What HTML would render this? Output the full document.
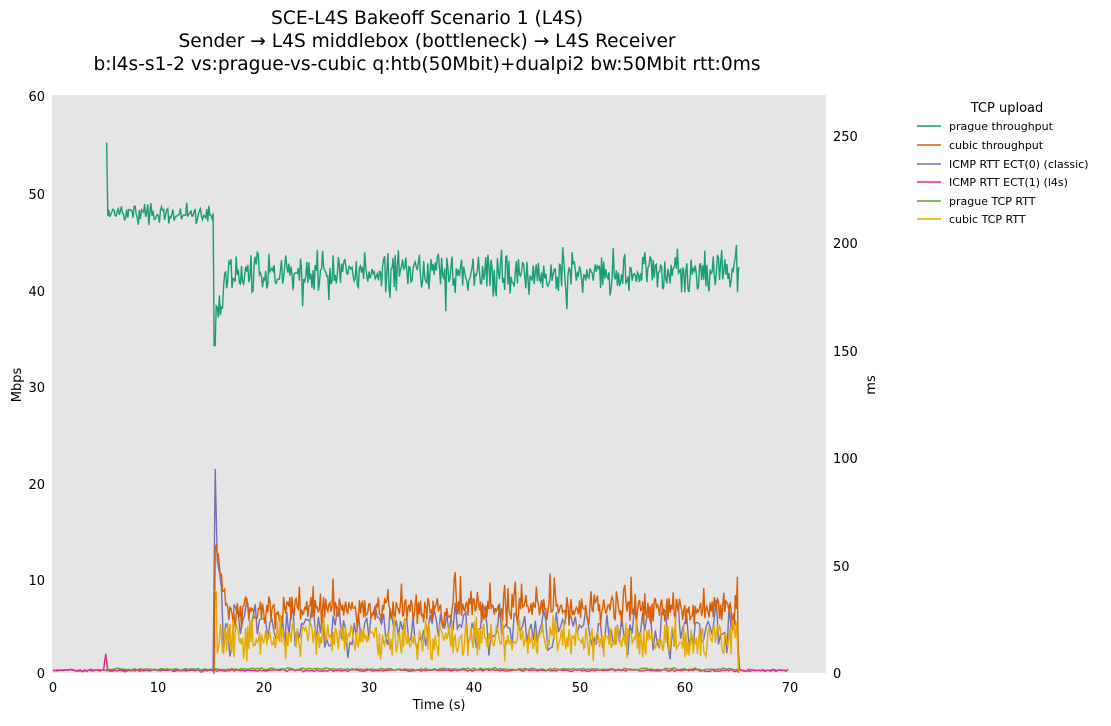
<!DOCTYPE html>
<html><head><meta charset="utf-8"><style>
body{margin:0;background:#fff;font-family:"Liberation Sans","DejaVu Sans",sans-serif;}
svg text{font-family:"DejaVu Sans","Liberation Sans",sans-serif;}
</style></head><body>
<svg id="s" width="1111" height="721" xmlns="http://www.w3.org/2000/svg">
<rect width="1111" height="721" fill="#fff"/>
<text x="427" y="24" font-size="18.6" text-anchor="middle">SCE-L4S Bakeoff Scenario 1 (L4S)</text>
<text x="427" y="47" font-size="18.6" text-anchor="middle">Sender → L4S middlebox (bottleneck) → L4S Receiver</text>
<text x="427" y="70" font-size="18.6" text-anchor="middle">b:l4s-s1-2 vs:prague-vs-cubic q:htb(50Mbit)+dualpi2 bw:50Mbit rtt:0ms</text>
<rect x="52" y="95" width="774" height="578" fill="#e5e5e5"/>
<g id="g"></g>
<g font-size="13" fill="#000">
<text x="45" y="678" text-anchor="end">0</text>
<text x="45" y="585" text-anchor="end">10</text>
<text x="45" y="489" text-anchor="end">20</text>
<text x="45" y="392" text-anchor="end">30</text>
<text x="45" y="296" text-anchor="end">40</text>
<text x="45" y="199" text-anchor="end">50</text>
<text x="45" y="101" text-anchor="end">60</text>
<text x="833" y="678">0</text>
<text x="833" y="571">50</text>
<text x="833" y="463">100</text>
<text x="833" y="356">150</text>
<text x="833" y="248">200</text>
<text x="833" y="141">250</text>
<text x="53" y="692" text-anchor="middle">0</text>
<text x="158" y="692" text-anchor="middle">10</text>
<text x="264" y="692" text-anchor="middle">20</text>
<text x="369" y="692" text-anchor="middle">30</text>
<text x="474" y="692" text-anchor="middle">40</text>
<text x="580" y="692" text-anchor="middle">50</text>
<text x="685" y="692" text-anchor="middle">60</text>
<text x="790" y="692" text-anchor="middle">70</text>
<text x="439" y="709" text-anchor="middle">Time (s)</text>
<text transform="translate(21,385) rotate(-90)" text-anchor="middle">Mbps</text>
<text transform="translate(875,385) rotate(-90)" text-anchor="middle">ms</text>
</g>
<g font-size="11">
<text x="1007" y="112" font-size="13" text-anchor="middle">TCP upload</text>
<line x1="917" x2="941" y1="126" y2="126" stroke="#1b9e77" stroke-width="1.5"/><text x="949" y="130">prague throughput</text>
<line x1="917" x2="941" y1="145" y2="145" stroke="#d95f02" stroke-width="1.5"/><text x="949" y="149">cubic throughput</text>
<line x1="917" x2="941" y1="164" y2="164" stroke="#7570b3" stroke-width="1.5"/><text x="949" y="168">ICMP RTT ECT(0) (classic)</text>
<line x1="917" x2="941" y1="182" y2="182" stroke="#e7298a" stroke-width="1.5"/><text x="949" y="186">ICMP RTT ECT(1) (l4s)</text>
<line x1="917" x2="941" y1="201" y2="201" stroke="#66a61e" stroke-width="1.5"/><text x="949" y="205">prague TCP RTT</text>
<line x1="917" x2="941" y1="219" y2="219" stroke="#e6ab02" stroke-width="1.5"/><text x="949" y="223">cubic TCP RTT</text>
</g>
</svg>
<script>
var seed=7;function r(){seed=(seed*16807)%2147483647;return seed/2147483647;}
function n(){return (r()+r()+r()-1.5)/1.5;}
function X(t){return 53+t*10.53;}function L(v){return 673-v*9.633;}function R(m){return 673-m*2.148;}
var g=document.getElementById('g');
function pl(pts,c){var p=document.createElementNS('http://www.w3.org/2000/svg','polyline');p.setAttribute('points',pts.map(function(a){return a[0].toFixed(1)+','+a[1].toFixed(1)}).join(' '));p.setAttribute('fill','none');p.setAttribute('stroke',c);p.setAttribute('stroke-width','1.4');g.appendChild(p);}
var a=[],t;
a=[];for(t=0;t<=70;t+=0.2){var m;if(t<15.2||t>65.2)m=1.2+0.8*n();else if(t<15.4)m=95;else{m=21+17*n()+(t<16?25:0);if(m<2)m=3;}a.push([X(t),R(m)]);}pl(a,'#7570b3');
a=[];for(t=0;t<=70;t+=0.2){var m=1.2+0.8*n();if(Math.abs(t-5)<0.15)m=9;a.push([X(t),R(m)]);}pl(a,'#e7298a');
a=[];for(t=5;t<=65.2;t+=0.2){a.push([X(t),R(1.8+0.8*n())]);}pl(a,'#66a61e');
a=[];for(t=15.2;t<=65.2;t+=0.1){var v;if(t<15.3)v=0;else if(t<16.5)v=14-(t-15.3)*6+1.5*n();else v=6.6+2.4*n()+(r()<0.05?2.5:0);if(t>65.1)v=0;a.push([X(t),L(v)]);}
a.splice(a.length-2,0,[X(65),L(10)]);pl(a,'#d95f02');
a=[];for(t=15.3;t<=65.2;t+=0.1){var m=(t<15.6?38:16+14*n());if(m<4)m=4+r()*3;if(t>65.1)m=1;a.push([X(t),R(m)]);}pl(a,'#e6ab02');
a=[];for(t=5;t<=65.3;t+=0.1){var v;if(t<5.15)v=55;else if(t<15.2)v=47.7+1.6*n();else if(t<15.4)v=34;else if(t<16.2)v=38+3*n();else v=41.6+3.2*n()-(r()<0.03?3:0);a.push([X(t),L(v)]);}pl(a,'#1b9e77');
</script>
</body></html>
